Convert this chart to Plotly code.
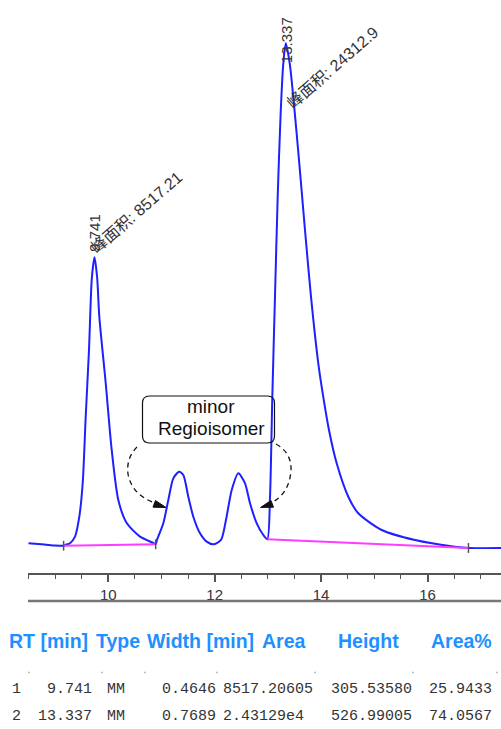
import numpy as np
import plotly.graph_objects as go

# ---- chromatogram signal (retention time [min], signal [mAU]) ----
time_min = [8.50, 8.80, 9.00, 9.16, 9.19, 9.28, 9.374, 9.455, 9.519, 9.575, 9.637, 9.69,
            9.79, 9.831, 9.951, 10.064, 10.188, 10.346, 10.596, 10.846, 10.89,
            10.915, 11.034, 11.128, 11.222, 11.33, 11.41, 11.504, 11.598, 11.724, 11.85, 11.974,
            12.118, 12.212, 12.32, 12.444, 12.57, 12.664, 12.79, 12.914, 12.99,
            13.04, 13.083, 13.133, 13.184, 13.24, 13.29,
            13.41, 13.477, 13.59, 13.697, 13.81, 13.947, 14.04, 14.148, 14.293, 14.511,
            14.699, 15.139, 15.765, 16.517, 16.77, 17.39]
signal_mau = [2.9, 1.6, 0.5, 0.3, 1.1, 2.9, 9.9, 31.1, 66.8, 136.9, 208.0, 284.0,
              285.0, 243.3, 173.0, 101.9, 48.8, 24.4, 9.9, 3.2, 1.8,
              6.4, 24.1, 48.8, 71.8, 78.8, 75.3, 52.3, 31.1, 13.5, 4.6, 1.8,
              6.4, 27.6, 59.4, 77.1, 66.5, 45.3, 24.1, 11.7, 7.2,
              52.3, 158.4, 264.5, 370.6, 459.4, 512.5,
              512.1, 476.7, 406.0, 335.3, 264.5, 193.8, 158.4, 123.1, 87.7, 52.3,
              34.7, 17.0, 6.4, -0.7, -2.1, -2.1]

# ---- integration baselines ----
base1_t = [9.16, 10.89]
base1_s = [0.3, 1.8]
base2_t = [12.99, 16.77]
base2_s = [7.2, -2.1]

# ---- peak table ----
peak_no = ["1", "2"]
rt_min = [9.741, 13.337]
peak_type = ["MM", "MM"]
width_min = ["0.4646", "0.7689"]
area_txt = ["8517.20605", "2.43129e4"]
height_mau = [305.53580, 526.99005]
area_pct = [25.9433, 74.0567]
area_label = ["8517.21", "24312.9"]

headers = ["RT [min]", "Type", "Width [min]", "Area", "Height", "Area%"]

# apex = reported height above the local integration baseline
apex_s = [height_mau[0] + np.interp(rt_min[0], base1_t, base1_s),
          height_mau[1] + np.interp(rt_min[1], base2_t, base2_s)]

t_all = np.array(time_min + rt_min)
s_all = np.array(signal_mau + apex_s)
order = np.argsort(t_all)
t_all, s_all = t_all[order], s_all[order]

W, H = 501, 729
ML, MB = 28, 156
PW, PH = W - ML, H - MB


def px(x):
    return (x - ML) / PW


def py(y):
    return (PH - y) / PH


fig = go.Figure()
fig.add_trace(go.Scatter(x=t_all, y=s_all, mode="lines",
                         line=dict(color="#1f1fff", width=2, shape="spline", smoothing=0.7),
                         hoverinfo="skip"))
for bt, bs in ((base1_t, base1_s), (base2_t, base2_s)):
    fig.add_trace(go.Scatter(x=bt, y=bs, mode="lines",
                             line=dict(color="#ff3cff", width=2), hoverinfo="skip"))
# peak start / end markers
fig.add_trace(go.Scatter(x=[base1_t[0], base1_t[1], base2_t[1]],
                         y=[base1_s[0], base1_s[1], base2_s[1]], mode="markers",
                         marker=dict(symbol="line-ns", size=7, line=dict(color="#555", width=1.5)),
                         hoverinfo="skip"))

lab_font = dict(family="Arial, Liberation Sans, Noto Sans CJK SC", size=15, color="#333")
cjk_font = dict(family="Arial, Liberation Sans, Noto Sans CJK SC", size=16, color="#333")
ann = []
rt_shift = [(0, 24), (0, 3)]
area_shift = [(42, 45), (47, -24)]
for i in range(2):
    ann.append(dict(x=rt_min[i], y=apex_s[i], xref="x", yref="y", text=f"{rt_min[i]:.3f}",
                    textangle=-90, showarrow=False, font=lab_font,
                    xanchor="center", yanchor="middle",
                    xshift=rt_shift[i][0], yshift=rt_shift[i][1]))
    ann.append(dict(x=rt_min[i], y=apex_s[i], xref="x", yref="y",
                    text=f"峰面积: {area_label[i]}", textangle=-41, showarrow=False,
                    font=cjk_font, xanchor="center", yanchor="middle",
                    xshift=area_shift[i][0], yshift=area_shift[i][1]))

# callout text
call_font = dict(family="Arial, Liberation Sans", size=19, color="#111")
ann.append(dict(x=px(211), y=py(406), xref="paper", yref="paper", text="minor",
                showarrow=False, font=call_font, xanchor="center", yanchor="middle"))
ann.append(dict(x=px(211), y=py(428), xref="paper", yref="paper", text="Regioisomer",
                showarrow=False, font=call_font, xanchor="center", yanchor="middle"))

# table header
head_font = dict(family="Arial, Liberation Sans", size=19.5, color="#1e90ff")
head_x = [7, 94, 145, 260, 336, 429]
for hx, txt in zip(head_x, headers):
    ann.append(dict(x=px(hx), y=py(641), xref="paper", yref="paper", text=f"<b>{txt}</b>",
                    showarrow=False, xanchor="left", yanchor="middle", font=head_font))

# table rows
row_font = dict(family="Liberation Mono", size=15, color="#333")
row_y = [689, 716.5]
for i in range(2):
    cells = [(peak_no[i], 23, "right"),
             (f"{rt_min[i]:.3f}", 94, "right"),
             (peak_type[i], 105, "left"),
             (width_min[i], 160, "left"),
             (area_txt[i], 221, "left"),
             (f"{height_mau[i]:.5f}", 329, "left"),
             (f"{area_pct[i]:.4f}", 427, "left")]
    for txt, cx, anc in cells:
        ann.append(dict(x=px(cx), y=py(row_y[i]), xref="paper", yref="paper", text=txt,
                        showarrow=False, xanchor=anc, yanchor="middle", font=row_font))

shapes = []
# rounded callout box
x0, x1, y0, y1, r = 142.5, 274.5, 396, 443, 7
rx, ry = r / PW, r / PH
X0, X1, Y0, Y1 = px(x0), px(x1), py(y1), py(y0)
box = (f"M {X0 + rx},{Y1} L {X1 - rx},{Y1} Q {X1},{Y1} {X1},{Y1 - ry} "
       f"L {X1},{Y0 + ry} Q {X1},{Y0} {X1 - rx},{Y0} L {X0 + rx},{Y0} "
       f"Q {X0},{Y0} {X0},{Y0 + ry} L {X0},{Y1 - ry} Q {X0},{Y1} {X0 + rx},{Y1} Z")
shapes.append(dict(type="path", xref="paper", yref="paper", path=box,
                   line=dict(color="#111", width=1.2), fillcolor="rgba(0,0,0,0)"))


def ppath(pts_cmd):
    out = []
    for tok in pts_cmd:
        if isinstance(tok, str):
            out.append(tok)
        else:
            out.append(f"{px(tok[0])},{py(tok[1])}")
    return " ".join(out)


# dashed curved arrows
arc_l = ppath(["M", (137, 447), "Q", (126, 458), (128, 474), "Q", (132, 495), (155, 503)])
arc_r = ppath(["M", (276, 444), "Q", (292, 453), (291, 471), "Q", (289, 494), (271, 503)])
for a in (arc_l, arc_r):
    shapes.append(dict(type="path", xref="paper", yref="paper", path=a,
                       line=dict(color="#111", width=1.3, dash="5px,4px")))
head_l = ppath(["M", (166, 507.5), "L", (153, 507.2), "L", (155.5, 500.5), "Z"])
head_r = ppath(["M", (260.5, 507.5), "L", (273.5, 507.2), "L", (271, 500.5), "Z"])
for hp in (head_l, head_r):
    shapes.append(dict(type="path", xref="paper", yref="paper", path=hp,
                       line=dict(color="#111", width=1), fillcolor="#111"))

# separator under the axis
shapes.append(dict(type="line", xref="paper", yref="paper", x0=px(28), x1=px(501),
                   y0=py(601), y1=py(601), line=dict(color="#777", width=2.5)))
# small column marks in the table
for mx in [29, 102, 145, 217, 315, 413, 497]:
    shapes.append(dict(type="line", xref="paper", yref="paper", x0=px(mx - 1), x1=px(mx + 1),
                       y0=py(672.5), y1=py(672.5), line=dict(color="#bbb", width=1.5)))

fig.update_layout(
    width=W, height=H,
    margin=dict(l=ML, r=0, t=0, b=MB),
    paper_bgcolor="white", plot_bgcolor="white",
    showlegend=False,
    annotations=ann, shapes=shapes,
    xaxis=dict(range=[10 - 80.3 / 53.2, 10 + 392.7 / 53.2], dtick=2, tick0=0,
               showgrid=False, zeroline=False,
               showline=True, linecolor="#555", linewidth=2,
               ticks="outside", ticklen=7, tickwidth=1.5, tickcolor="#555",
               tickfont=dict(family="Arial, Liberation Sans", size=15, color="#333"),
               minor=dict(dtick=0.5, tick0=0, ticks="outside", ticklen=4,
                          tickwidth=1.2, tickcolor="#555", showgrid=False)),
    yaxis=dict(range=[-27 / 0.9425, 546 / 0.9425], visible=False, showgrid=False,
               zeroline=False),
)

fig.write_html("out.html")
